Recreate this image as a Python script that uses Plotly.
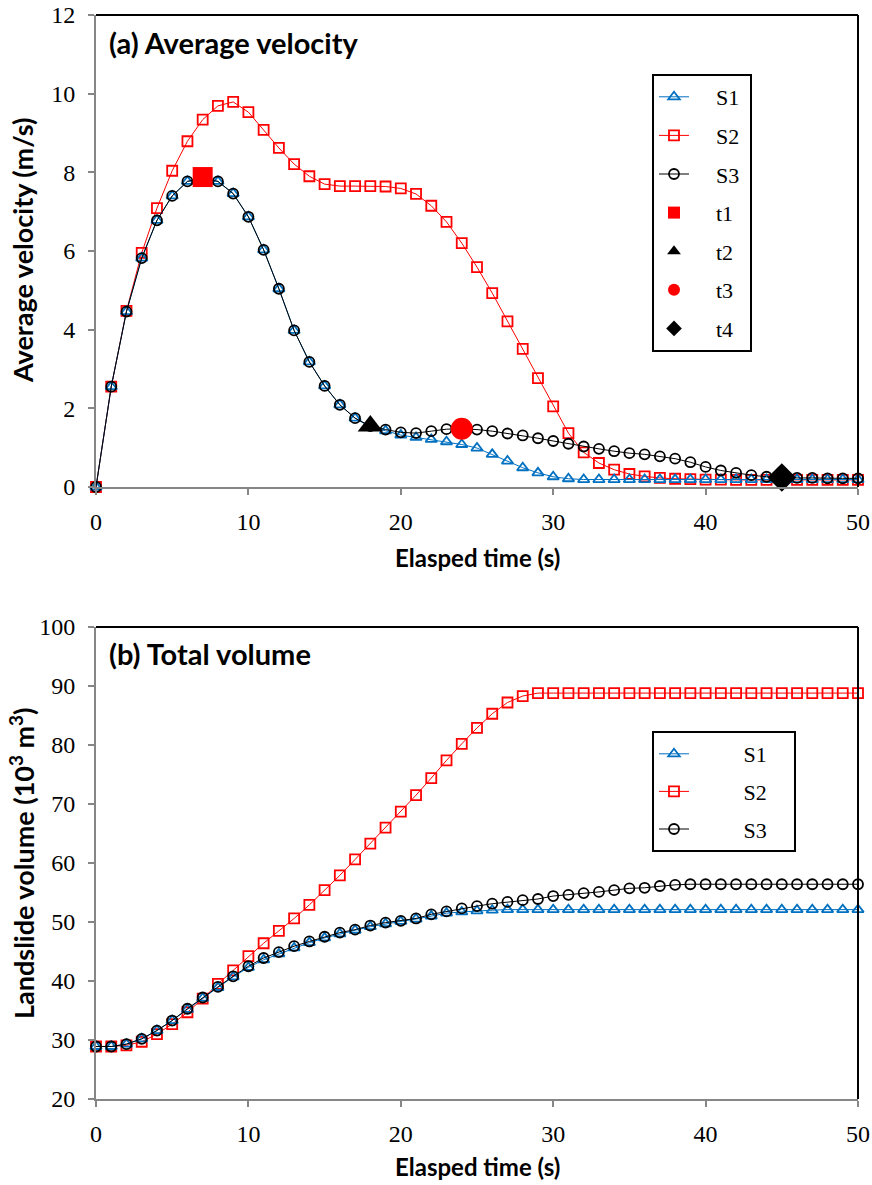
import plotly.graph_objects as go

# ---------------- data ----------------
time_s = list(range(51))

# (a) average velocity (m/s)
vel_S1 = [0, 2.55, 4.46, 5.82, 6.78, 7.40, 7.77, 7.85, 7.77, 7.46,
          6.87, 6.03, 5.04, 3.98, 3.18, 2.57, 2.09, 1.75, 1.52, 1.43,
          1.32, 1.26, 1.21, 1.15, 1.08, 0.99, 0.83, 0.66, 0.49, 0.36,
          0.26, 0.21, 0.19, 0.19, 0.19, 0.19, 0.19, 0.19, 0.19, 0.19,
          0.19, 0.19, 0.19, 0.19, 0.19, 0.19, 0.19, 0.19, 0.19, 0.19, 0.19]
vel_S2 = [0, 2.55, 4.48, 5.95, 7.09, 8.04, 8.79, 9.34, 9.69, 9.79,
          9.53, 9.08, 8.62, 8.21, 7.90, 7.70, 7.65, 7.65, 7.65, 7.64,
          7.59, 7.45, 7.15, 6.74, 6.20, 5.59, 4.93, 4.21, 3.51, 2.77,
          2.05, 1.37, 0.88, 0.61, 0.44, 0.33, 0.27, 0.23, 0.21, 0.20,
          0.19, 0.19, 0.18, 0.18, 0.18, 0.18, 0.18, 0.18, 0.18, 0.18, 0.18]
vel_S3 = [0, 2.55, 4.46, 5.82, 6.78, 7.40, 7.77, 7.85, 7.77, 7.46,
          6.87, 6.03, 5.04, 3.98, 3.18, 2.57, 2.09, 1.75, 1.55, 1.46,
          1.39, 1.37, 1.42, 1.47, 1.48, 1.46, 1.42, 1.36, 1.31, 1.24,
          1.17, 1.10, 1.03, 0.97, 0.91, 0.86, 0.83, 0.78, 0.72, 0.63,
          0.51, 0.42, 0.36, 0.30, 0.26, 0.24, 0.23, 0.23, 0.22, 0.22, 0.22]

# key instants
event_names = ["t1", "t2", "t3", "t4"]
event_time = [7, 18, 24, 45]
event_vel = [7.88, 1.55, 1.48, 0.24]

# (b) total volume (10^3 m^3)
vol_S1 = [28.9, 28.9, 29.3, 30.2, 31.6, 33.3, 35.2, 37.1, 38.9, 40.7,
          42.3, 43.6, 44.6, 45.6, 46.5, 47.3, 48.0, 48.6, 49.2, 49.7,
          50.1, 50.5, 51.0, 51.5, 51.7, 51.9, 52.0, 52.1, 52.1, 52.1,
          52.1, 52.1, 52.1, 52.1, 52.1, 52.1, 52.1, 52.1, 52.1, 52.1,
          52.1, 52.1, 52.1, 52.1, 52.1, 52.1, 52.1, 52.1, 52.1, 52.1, 52.1]
vol_S2 = [28.9, 28.9, 29.1, 29.7, 31.0, 32.7, 34.7, 37.0, 39.5, 41.8,
          44.2, 46.4, 48.5, 50.6, 52.9, 55.4, 57.9, 60.6, 63.3, 66.0,
          68.7, 71.5, 74.4, 77.4, 80.2, 82.9, 85.3, 87.2, 88.3, 88.8,
          88.8, 88.8, 88.8, 88.8, 88.8, 88.8, 88.8, 88.8, 88.8, 88.8,
          88.8, 88.8, 88.8, 88.8, 88.8, 88.8, 88.8, 88.8, 88.8, 88.8, 88.8]
vol_S3 = [28.9, 28.9, 29.3, 30.2, 31.6, 33.3, 35.3, 37.2, 39.0, 40.8,
          42.5, 43.9, 44.9, 45.9, 46.7, 47.5, 48.2, 48.7, 49.4, 49.9,
          50.2, 50.6, 51.3, 51.8, 52.3, 52.7, 53.1, 53.4, 53.7, 53.9,
          54.4, 54.6, 54.9, 55.1, 55.4, 55.7, 55.8, 56.1, 56.3, 56.4,
          56.4, 56.4, 56.4, 56.4, 56.4, 56.4, 56.4, 56.4, 56.4, 56.4, 56.4]

x_ticks = [0, 10, 20, 30, 40, 50]
vel_ticks = [0, 2, 4, 6, 8, 10, 12]
vol_ticks = [20, 30, 40, 50, 60, 70, 80, 90, 100]

# ---------------- layout geometry ----------------
W, H = 872, 1185
ML, MR, MT, MB = 96, 14, 15, 86
PH = H - MT - MB


def py(pix):
    return (H - MB - pix) / PH


def px(pix):
    return (pix - ML) / (W - ML - MR)


TOP_DOM = [py(487), 1.0]
BOT_DOM = [0.0, py(627)]

BLUE = "#0070C0"
RED = "#FF0000"
GREY = "#868686"
SERIF = "Liberation Serif"
SANS = "Lato"
NB = "\u00a0"

series_style = {
    "S1": dict(color=BLUE, symbol="triangle-up-open", rank=1),
    "S2": dict(color=RED, symbol="square-open", rank=2),
    "S3": dict(color="black", symbol="circle-open", rank=3),
}


def lname(name, lead, trail):
    return NB * lead + name + NB * trail


fig = go.Figure()

vel_data = {"S1": vel_S1, "S2": vel_S2, "S3": vel_S3}
vol_data = {"S1": vol_S1, "S2": vol_S2, "S3": vol_S3}

# legend-only entries first (fix the legend order), data drawn afterwards
legend_names = ["S1", "S2", "S3"]
for name in legend_names:
    st = series_style[name]
    fig.add_trace(go.Scatter(
        x=[None], y=[None], name=lname(name, 4, 1), mode="lines+markers",
        line=dict(color=st["color"], width=1),
        marker=dict(symbol=st["symbol"], size=10, color=st["color"],
                    line=dict(color=st["color"], width=1.8)),
        legend="legend", legendgroup="a" + name, xaxis="x", yaxis="y"))

event_style = [
    dict(symbol="square", color=RED, size=20, lsize=12),
    dict(symbol="triangle-up", color="black", size=22, lsize=12),
    dict(symbol="circle", color=RED, size=22, lsize=12),
    dict(symbol="diamond", color="black", size=22, lsize=12),
]
for i, nm in enumerate(event_names):
    es = event_style[i]
    fig.add_trace(go.Scatter(
        x=[None], y=[None], name=lname(nm, 4, 1), mode="markers",
        marker=dict(symbol=es["symbol"], size=es["lsize"], color=es["color"],
                    line=dict(width=0)),
        legend="legend", legendgroup="e" + nm, xaxis="x", yaxis="y"))

for name in legend_names:
    st = series_style[name]
    fig.add_trace(go.Scatter(
        x=[None], y=[None], name=lname(name, 9, 4), mode="lines+markers",
        line=dict(color=st["color"], width=1),
        marker=dict(symbol=st["symbol"], size=10, color=st["color"],
                    line=dict(color=st["color"], width=1.8)),
        legend="legend2", legendgroup="b" + name, xaxis="x2", yaxis="y2"))

# actual data (drawn S2, S1, S3 so circles sit on top)
draw_order = ["S2", "S1", "S3"]
for name in draw_order:
    st = series_style[name]
    fig.add_trace(go.Scatter(
        x=time_s, y=vel_data[name], name=name, mode="lines+markers",
        line=dict(color=st["color"], width=1),
        marker=dict(symbol=st["symbol"], size=10, color=st["color"],
                    line=dict(color=st["color"], width=1.8)),
        showlegend=False, cliponaxis=False, xaxis="x", yaxis="y"))

for i, nm in enumerate(event_names):
    es = event_style[i]
    fig.add_trace(go.Scatter(
        x=[event_time[i]], y=[event_vel[i]], name=nm, mode="markers",
        marker=dict(symbol=es["symbol"], size=es["size"], color=es["color"],
                    line=dict(width=0)),
        showlegend=False, cliponaxis=False, xaxis="x", yaxis="y"))

for name in draw_order:
    st = series_style[name]
    fig.add_trace(go.Scatter(
        x=time_s, y=vol_data[name], name=name, mode="lines+markers",
        line=dict(color=st["color"], width=1),
        marker=dict(symbol=st["symbol"], size=10, color=st["color"],
                    line=dict(color=st["color"], width=1.8)),
        showlegend=False, cliponaxis=False, xaxis="x2", yaxis="y2"))

tickfont = dict(family=SERIF, size=24, color="black")
common_x = dict(range=[0, 50], tickvals=x_ticks, showgrid=False, zeroline=False,
                showline=True, linecolor=GREY, linewidth=2, ticks="outside",
                tickcolor=GREY, tickwidth=2, ticklen=6, tickfont=tickfont,
                ticklabelstandoff=6, automargin=False)
common_y = dict(showgrid=False, zeroline=False, showline=True, linecolor=GREY,
                linewidth=2, ticks="outside", tickcolor=GREY, tickwidth=2,
                ticklen=6, tickfont=tickfont, ticklabelstandoff=8, automargin=False)

legend_common = dict(
    bgcolor="white", bordercolor="black", borderwidth=2,
    font=dict(family=SERIF, size=22, color="black"),
    itemsizing="trace", xanchor="left", yanchor="top",
    traceorder="grouped",
)

fig.update_layout(
    width=W, height=H,
    margin=dict(l=ML, r=MR, t=MT, b=MB, autoexpand=False),
    paper_bgcolor="white", plot_bgcolor="white",
    xaxis=dict(domain=[0, 1], anchor="y", **common_x),
    yaxis=dict(domain=TOP_DOM, anchor="x", range=[0, 12], tickvals=vel_ticks, **common_y),
    xaxis2=dict(domain=[0, 1], anchor="y2", **common_x),
    yaxis2=dict(domain=BOT_DOM, anchor="x2", range=[20, 100], tickvals=vol_ticks, **common_y),
    legend=dict(x=px(652), y=py(74), tracegroupgap=7, **legend_common),
    legend2=dict(x=px(652), y=py(731), tracegroupgap=6, **legend_common),
    showlegend=True,
)

# black top / right frame lines
for dom in (TOP_DOM, BOT_DOM):
    fig.add_shape(type="line", xref="paper", yref="paper", x0=0, x1=1,
                  y0=dom[1], y1=dom[1], line=dict(color="black", width=2))
    fig.add_shape(type="line", xref="paper", yref="paper", x0=1, x1=1,
                  y0=dom[0], y1=dom[1], line=dict(color="black", width=2))

title_font = dict(family=SANS, size=29, color="black", weight="bold")
xt_font = dict(family=SANS, size=24, color="black", weight="bold")
yt_font = dict(family=SANS, size=27, color="black", weight="bold")
ann = [
    dict(text="(a) Average velocity", x=px(107), y=py(43), xanchor="left",
         yanchor="middle", font=title_font),
    dict(text="(b) Total volume", x=px(107), y=py(653), xanchor="left",
         yanchor="middle", font=title_font),
    dict(text="Elasped time (s)", x=0.5, y=py(558), xanchor="center",
         yanchor="middle", font=xt_font),
    dict(text="Elasped time (s)", x=0.5, y=py(1166), xanchor="center",
         yanchor="middle", font=xt_font),
    dict(text="Average velocity (m/s)", x=px(22), y=py(251), xanchor="center",
         yanchor="middle", textangle=-90, font=yt_font),
    dict(text="Landslide volume (10<sup>3</sup> m<sup>3</sup>)", x=px(22), y=py(863),
         xanchor="center", yanchor="middle", textangle=-90, font=yt_font),
]
for a in ann:
    fig.add_annotation(xref="paper", yref="paper", showarrow=False, **a)

fig.write_html("out.html")
